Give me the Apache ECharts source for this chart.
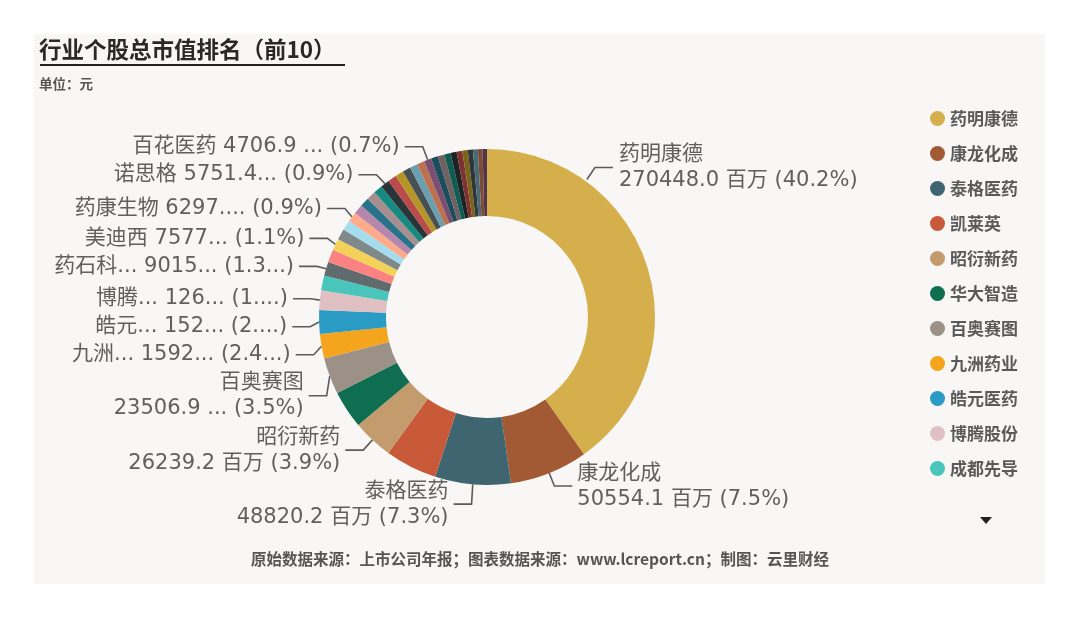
<!DOCTYPE html>
<html>
<head>
<meta charset="utf-8">
<title>行业个股总市值排名</title>
<script src="https://cdn.jsdelivr.net/npm/echarts@6/dist/echarts.min.js"></script>
<style>
  html, body { margin: 0; padding: 0; background: #fff; }
  #main { width: 1080px; height: 618px; }
</style>
</head>
<body>
<div id="main"></div>
<script>
// 公司名称（按总市值从大到小）
var names = ['药明康德', '康龙化成', '泰格医药', '凯莱英', '昭衍新药', '华大智造', '百奥赛图', '九洲药业',
    '皓元医药', '博腾股份', '成都先导', '药石科技', '毕得医药', '美迪西', '诺泰生物', '联化科技',
    '药康生物', '阳光诺和', '天宇股份', '键凯科技', '纳微科技', '诺思格', '百诚医药', '普蕊斯',
    '美诺华', '奥浦迈', '泓博医药', '百花医药', '诚达药业', '睿智医药', '博济医药', '南模生物',
    '益诺思', '和元生物', '万邦医药', '海特生物', '浩欧博', '维康药业'];
// 总市值，百万
var values = [270448.0, 50554.1, 48820.2, 33700, 26239.2, 24500, 23506.9, 15925,
    15230, 12650, 9600, 9015.3, 8300, 7577.4, 7000, 6600,
    6297.5, 6150, 6000, 5900, 5820, 5751.4, 5600, 5400,
    5200, 5000, 4850, 4706.9, 4500, 4300, 4100, 3900,
    3700, 3500, 3300, 3150, 3000, 2850];
// 图上显示标签的公司
var labelled = ['药明康德', '康龙化成', '泰格医药', '昭衍新药', '百奥赛图', '九洲药业', '皓元医药',
    '博腾股份', '药石科技', '美迪西', '药康生物', '诺思格', '百花医药'];
// 两行标签
var wrapped = ['药明康德', '康龙化成', '泰格医药', '昭衍新药', '百奥赛图'];
// 标签截断：[名称字数, 数值字数, 百分比字数]
var labelFit = {
    '百奥赛图': [null, 8, null],
    '九洲药业': [2, 4, 3],
    '皓元医药': [2, 3, 2],
    '博腾股份': [2, 3, 2],
    '药石科技': [3, 4, 3],
    '美迪西': [null, 4, null],
    '药康生物': [null, 5, null],
    '诺思格': [null, 6, null],
    '百花医药': [null, 7, null]
};
var legendCount = 11;

var palette = ['#D4AF4B', '#A15A33', '#3E6570', '#C85A3A', '#C49B6C', '#0F6E50', '#9B9187', '#F5A41E',
    '#2A9BC4', '#E1C0C4', '#4AC5BB', '#5F6B6D', '#FB8281', '#F4D25A', '#7F898A', '#A4DDEE',
    '#FDAB89', '#B687AC', '#28738A', '#A78F8F', '#168980', '#293537', '#BB4A4A', '#B59525',
    '#475052', '#6A9FB0', '#BD7150', '#7B4F71', '#1B4D5C', '#706060', '#0F5C55', '#1C2325',
    '#7D3231', '#796419', '#303637', '#476A75', '#7E4B36', '#52354C'];

var CX = 487, CY = 317, R_IN = 101, R_OUT = 168;
var FONT = "'DejaVu Sans', 'Noto Sans CJK SC', sans-serif";
var CJK = "'Noto Sans CJK SC', sans-serif";

var total = values.reduce(function (a, b) { return a + b; }, 0);

function fit(s, n) {
    return (n == null || s.length <= n) ? s : s.slice(0, n) + '...';
}

var data = names.map(function (n, i) {
    var show = labelled.indexOf(n) >= 0;
    return { name: n, value: values[i], label: { show: show }, labelLine: { show: show } };
});

var myChart = echarts.init(document.getElementById('main'));

var option = {
    backgroundColor: '#fff',
    color: palette,
    animation: false,
    title: [
        {
            text: '行业个股总市值排名（前10）',
            left: 39, top: 38,
            padding: 0,
            textStyle: { fontFamily: CJK, fontSize: 22.5, fontWeight: 'bold', color: '#2a2928' },
            subtext: '单位：元',
            itemGap: 17,
            subtextStyle: { fontFamily: CJK, fontSize: 13.5, fontWeight: 'bold', color: '#555' }
        },
        {
            text: '原始数据来源：上市公司年报；图表数据来源：www.lcreport.cn；制图：云里财经',
            left: 'center', top: 551,
            padding: 0,
            textStyle: { fontFamily: CJK, fontSize: 15.5, fontWeight: 'bold', color: '#555' }
        }
    ],
    graphic: [
        {
            type: 'rect', z: -10, silent: true,
            shape: { x: 34, y: 34, width: 1011, height: 550 },
            style: { fill: '#F9F7F5' }
        },
        {
            type: 'line', silent: true,
            shape: { x1: 40, y1: 65, x2: 345, y2: 65 },
            style: { stroke: '#222', lineWidth: 2 }
        },
        {
            // 图例翻页箭头
            type: 'polygon', silent: true,
            shape: { points: [[980, 517], [992, 517], [986, 524]] },
            style: { fill: '#222' }
        }
    ],
    legend: {
        data: names.slice(0, legendCount),
        orient: 'vertical',
        left: 930, top: 110,
        padding: 0,
        icon: 'circle',
        itemWidth: 15, itemHeight: 15,
        itemGap: 18,
        selectedMode: false,
        textStyle: { fontFamily: CJK, fontSize: 17, fontWeight: 'bold', color: '#5a5a5a' }
    },
    series: [
        {
            name: '总市值',
            type: 'pie',
            center: [CX, CY],
            radius: [R_IN, R_OUT],
            startAngle: 90,
            clockwise: true,
            avoidLabelOverlap: true,
            itemStyle: { borderWidth: 0 },
            label: {
                show: true,
                position: 'outside',
                fontFamily: FONT,
                fontSize: 21,
                lineHeight: 26,
                color: '#606060',
                formatter: function (p) {
                    var f = labelFit[p.name] || [];
                    var pct = (p.value / total * 100).toFixed(1) + '%';
                    var name = fit(p.name, f[0]);
                    var val = fit(p.value.toFixed(1) + ' 百万', f[1]);
                    var per = '(' + fit(pct, f[2]) + ')';
                    return name + (wrapped.indexOf(p.name) >= 0 ? '\n' : ' ') + val + ' ' + per;
                }
            },
            labelLine: {
                show: true,
                length: 14,
                length2: 18,
                lineStyle: { color: '#5c5c5c', width: 1.6 }
            },
            labelLayout: function (p) {
                if (p.dataIndex !== 0) return;
                // 最大一块的标签放在靠上的位置
                var a = 36 * Math.PI / 180;
                var x0 = CX + (R_OUT + 2) * Math.sin(a);
                var y0 = CY - (R_OUT + 2) * Math.cos(a);
                var x1 = x0 + 8, y1 = y0 - 12;
                var x2 = x1 + 18;
                return {
                    x: x2 + 6, y: y1,
                    align: 'left', verticalAlign: 'middle',
                    labelLinePoints: [[x0, y0], [x1, y1], [x2, y1]]
                };
            },
            data: data
        }
    ]
};

myChart.setOption(option);
</script>
</body>
</html>
